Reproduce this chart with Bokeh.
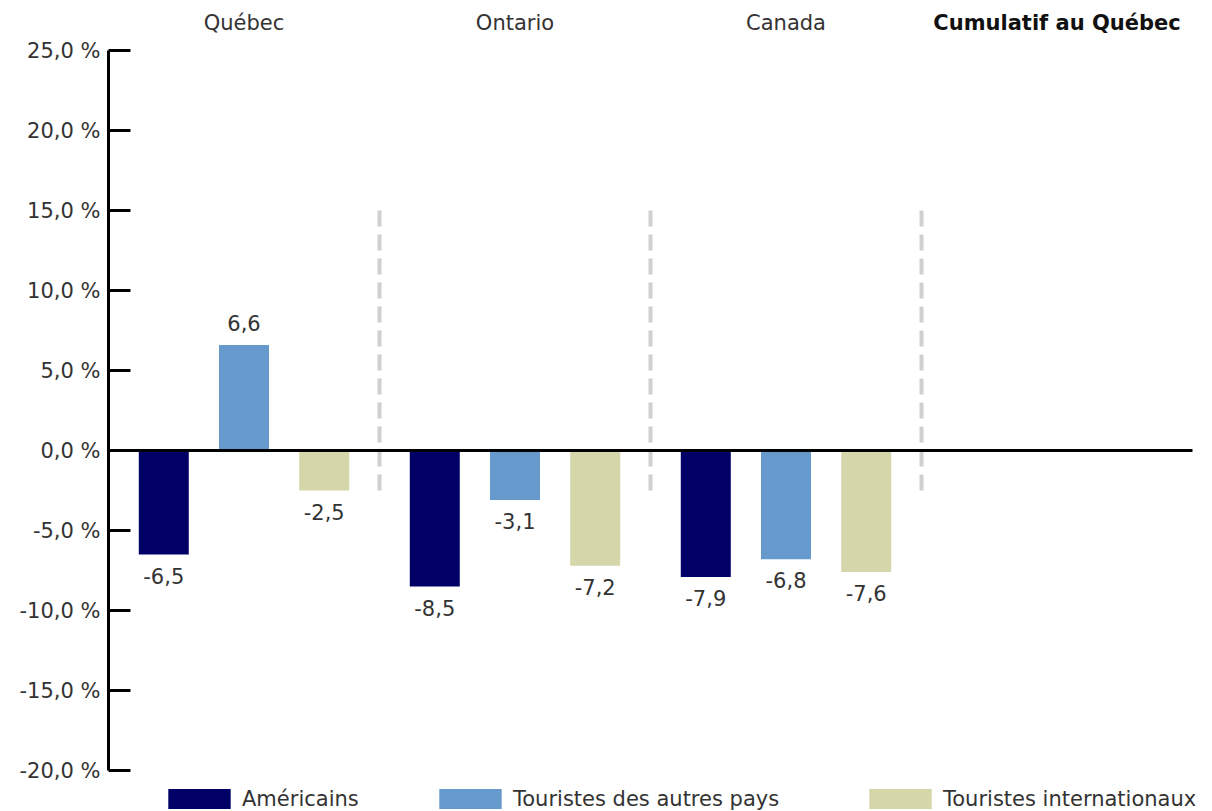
from bokeh.plotting import figure
from bokeh.models import (Range1d, FixedTicker, Legend, LegendItem, ColumnDataSource)
from bokeh.core.properties import value
from bokeh.embed import file_html
from bokeh.resources import INLINE

# ---- data ----
groups = ["Québec", "Ontario", "Canada", "Cumulatif au Québec"]
series_names = ["Américains", "Touristes des autres pays", "Touristes internationaux"]
americains = [-6.5, -8.5, -7.9]
autres_pays = [6.6, -3.1, -6.8]
internationaux = [-2.5, -7.2, -7.6]
colors = ["#000066", "#6699CC", "#D5D6AA"]
y_ticks = [-20, -15, -10, -5, 0, 5, 10, 15, 20, 25]
y_tick_labels = ["-20,0 %", "-15,0 %", "-10,0 %", "-5,0 %", "0,0 %",
                 "5,0 %", "10,0 %", "15,0 %", "20,0 %", "25,0 %"]

FONT = "DejaVu Sans"
TXT = "#333333"

n_groups = len(groups)
p = figure(width=1212, height=811, output_backend="svg", toolbar_location=None,
           x_range=Range1d(0, 1104 / 271), y_range=Range1d(-22.5625, 28.125),
           x_axis_location=None, min_border_left=108, min_border_right=0,
           min_border_top=0, min_border_bottom=0, outline_line_color=None)
p.xgrid.visible = False
p.ygrid.visible = False
p.background_fill_color = "white"
p.border_fill_color = "white"

# y axis
ax = p.yaxis[0]
ax.bounds = (-20, 25)
ax.ticker = FixedTicker(ticks=y_ticks)
ax.major_label_overrides = {t: l for t, l in zip(y_ticks, y_tick_labels)}
ax.minor_tick_line_color = None
ax.major_tick_in = 22
ax.major_tick_out = 0
ax.major_tick_line_width = 3
ax.major_tick_line_color = "black"
ax.axis_line_width = 3
ax.axis_line_color = "black"
ax.major_label_text_font = FONT
ax.major_label_text_font_size = "21px"
ax.major_label_text_color = TXT
ax.major_label_standoff = 8

# separators between groups
sep_x = [1, 2, 3]
p.segment(x0=sep_x, x1=sep_x, y0=[-2.5] * 3, y1=[15] * 3,
          line_color="#D0D0D0", line_width=4, line_dash="16 8")

# bars
bw = 50 / 271
offsets = [-0.296, 0.0, 0.296]
all_series = [americains, autres_pays, internationaux]
renderers = []
for s, (vals, col) in enumerate(zip(all_series, colors)):
    xs = [i + 0.5 + offsets[s] for i in range(len(vals))]
    src = ColumnDataSource(dict(
        x=xs, top=vals,
        lab=[("%.1f" % v).replace(".", ",") for v in vals],
        yoff=[-22 if v >= 0 else 21 for v in vals]))
    r = p.vbar(x="x", top="top", bottom=0, width=bw, source=src,
               fill_color=col, line_color=None)
    renderers.append(r)
    p.text(x="x", y="top", text="lab", y_offset="yoff", source=src,
           text_align="center", text_baseline="middle",
           text_font=value(FONT), text_font_size="21px", text_color=TXT)

# zero line (across all groups)
p.segment(x0=[0], x1=[n_groups], y0=[0], y1=[0], line_color="black", line_width=3)

# group headers
hx = [i + 0.5 for i in range(n_groups)]
p.text(x=hx[:3], y=[26.7] * 3, text=groups[:3], text_align="center",
       text_baseline="middle", text_font=value(FONT), text_font_size="21px",
       text_color=TXT)
p.text(x=hx[3:], y=[26.7], text=groups[3:], text_align="center",
       text_baseline="middle", text_font=value(FONT), text_font_size="21px",
       text_font_style="bold", text_color="#111111")

# legends (one per item for exact placement)
leg_x = [52, 323, 753]
for name, r, lx in zip(series_names, renderers, leg_x):
    lg = Legend(items=[LegendItem(label=name, renderers=[r])],
                location=(lx, 0), orientation="horizontal",
                glyph_width=78, glyph_height=25, label_height=25,
                label_standoff=4, padding=0, margin=0, spacing=0,
                border_line_color=None, background_fill_alpha=0,
                label_text_font=FONT, label_text_font_size="21px",
                label_text_color=TXT, label_text_baseline="middle")
    p.add_layout(lg)

open("out.html", "w").write(file_html(p, INLINE))
